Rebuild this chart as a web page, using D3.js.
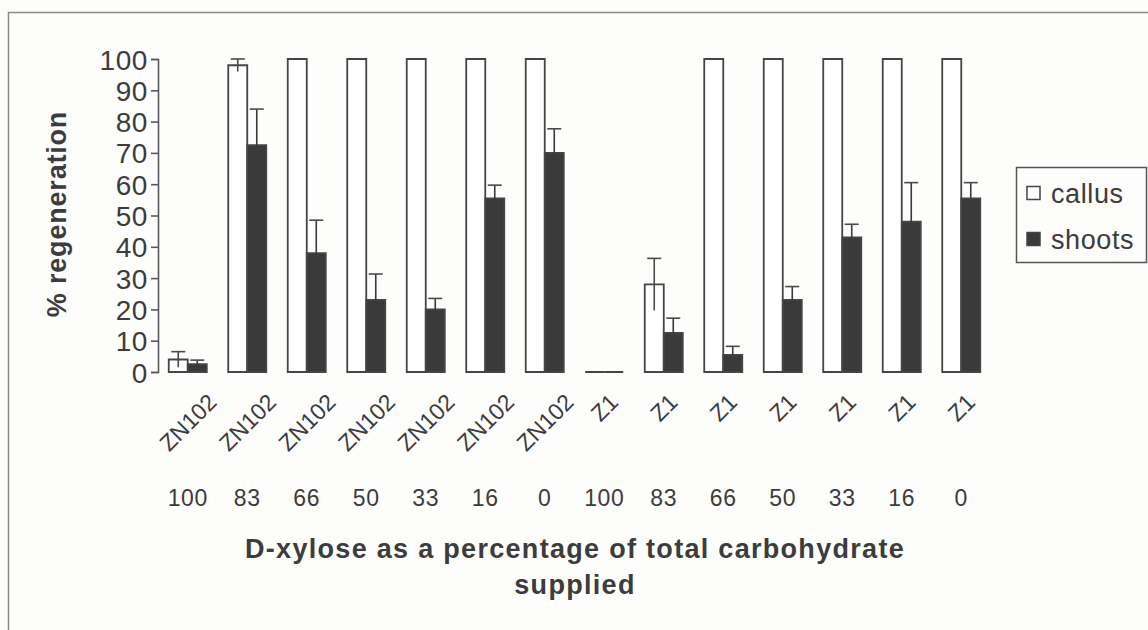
<!DOCTYPE html>
<html>
<head>
<meta charset="utf-8">
<script src="https://cdn.jsdelivr.net/npm/d3@7"></script>
<style>
  html, body { margin: 0; padding: 0; background: #fdfdfc; }
  svg { display: block; }
  text { font-family: "Liberation Sans", Arial, sans-serif; fill: #3c3c3c; }
</style>
</head>
<body>
<svg id="chart" width="1148" height="630"></svg>
<script>
// Cultivar and D-xylose level for each treatment group
const cultivars = ["ZN102","ZN102","ZN102","ZN102","ZN102","ZN102","ZN102",
                   "Z1","Z1","Z1","Z1","Z1","Z1","Z1"];
const xyloseLevels = ["100","83","66","50","33","16","0",
                      "100","83","66","50","33","16","0"];

// % regeneration (mean) and error for each series
const callus      = [4, 98, 100, 100, 100, 100, 100, 0, 28, 100, 100, 100, 100, 100];
const callusErr   = [2.5, 2, 0, 0, 0, 0, 0, 0, 8.3, 0, 0, 0, 0, 0];
const shoots      = [2.5, 72.5, 38, 23, 20, 55.5, 70, 0, 12.5, 5.5, 23, 43, 48, 55.5];
const shootsErr   = [1.3, 11.5, 10.5, 8.3, 3.5, 4.2, 7.7, 0, 4.7, 2.7, 4.3, 4.2, 12.5, 5];

const seriesNames = ["callus", "shoots"];
const yTicks = [0, 10, 20, 30, 40, 50, 60, 70, 80, 90, 100];

const svg = d3.select("#chart");
const ink = "#3c3c3c";
const dark = "#3a3a3a";

// outer frame
svg.append("path")
  .attr("d", "M8.5,630 L8.5,12.5 L1148,12.5")
  .attr("fill", "none").attr("stroke", "#8a8a8a").attr("stroke-width", 1.5);

const plot = { left: 158, right: 991, top: 59, bottom: 372 };
const idx = d3.range(cultivars.length);

const x = d3.scaleBand()
  .domain(idx)
  .range([plot.left, plot.right])
  .paddingInner(0.361)
  .paddingOuter(0.1805);

const x1 = d3.scaleBand().domain(seriesNames).range([0, x.bandwidth()]);

const y = d3.scaleLinear().domain([0, 100]).range([plot.bottom, plot.top]);

// y axis
const yAxis = svg.append("g")
  .attr("transform", `translate(${plot.left},0)`)
  .call(d3.axisLeft(y).tickValues(yTicks).tickSize(7).tickPadding(3));
yAxis.select(".domain").attr("stroke", "#5a5a5a").attr("stroke-width", 1.6);
yAxis.selectAll(".tick line").attr("stroke", "#5a5a5a").attr("stroke-width", 1.6);
yAxis.selectAll(".tick text")
  .attr("font-size", 28).attr("letter-spacing", 0.6)
  .attr("fill", ink).attr("dy", "0.36em")
  .style("font-family", "'Liberation Sans', Arial, sans-serif");

// bars drawn as closed paths so that zero-height bars still show their outline
const series = [
  { name: "callus", values: callus, errs: callusErr, fill: "#ffffff" },
  { name: "shoots", values: shoots, errs: shootsErr, fill: dark }
];

function barPath(x0, y0, w, h) {
  const p = d3.path();
  p.moveTo(x0, y0 + h);
  p.lineTo(x0, y0);
  p.lineTo(x0 + w, y0);
  p.lineTo(x0 + w, y0 + h);
  p.closePath();
  return p.toString();
}

series.forEach(s => {
  const g = svg.append("g");
  g.selectAll("path")
    .data(idx)
    .join("path")
    .attr("d", i => barPath(x(i) + x1(s.name), y(s.values[i]),
                            x1.bandwidth(), y(0) - y(s.values[i])))
    .attr("fill", s.fill)
    .attr("stroke", "#454545")
    .attr("stroke-width", 1.8);

  // error bars (stem through the bar top, cap on the upper end)
  const eb = idx.filter(i => s.errs[i] > 0);
  const cx = i => x(i) + x1(s.name) + x1.bandwidth() / 2;
  g.selectAll("line.stem")
    .data(eb)
    .join("line")
    .attr("class", "stem")
    .attr("x1", cx).attr("x2", cx)
    .attr("y1", i => y(Math.max(0, s.values[i] - s.errs[i])))
    .attr("y2", i => y(s.values[i] + s.errs[i]))
    .attr("stroke", s.name === "callus" ? "#4a4a4a" : dark)
    .attr("stroke-width", 1.6);
  g.selectAll("line.cap")
    .data(eb)
    .join("line")
    .attr("class", "cap")
    .attr("x1", i => cx(i) - 7).attr("x2", i => cx(i) + 7)
    .attr("y1", i => y(s.values[i] + s.errs[i]))
    .attr("y2", i => y(s.values[i] + s.errs[i]))
    .attr("stroke", "#4a4a4a")
    .attr("stroke-width", 1.6);
});

// rotated cultivar labels, centred on each group, top-aligned
const labelTop = 392;
const cultLabels = svg.append("g").selectAll("text")
  .data(idx)
  .join("text")
  .attr("font-size", 23)
  .attr("text-anchor", "middle")
  .text(i => cultivars[i]);
cultLabels.each(function(i) {
  const len = this.getComputedTextLength();
  const h = 16.5;
  const half = (len * Math.SQRT1_2 + h * Math.SQRT1_2) / 2;
  const cxp = x(i) + x.bandwidth() / 2;
  d3.select(this)
    .attr("dy", "0.36em")
    .attr("transform", `translate(${cxp},${labelTop + half}) rotate(-45)`);
});

// D-xylose level row
svg.append("g").selectAll("text")
  .data(idx)
  .join("text")
  .attr("x", i => x(i) + x.bandwidth() / 2)
  .attr("y", 506)
  .attr("font-size", 23)
  .attr("letter-spacing", 0.6)
  .attr("text-anchor", "middle")
  .text(i => xyloseLevels[i]);

// axis titles
const xTitle = svg.append("text")
  .attr("font-size", 27).attr("font-weight", "bold")
  .attr("letter-spacing", 1.3)
  .attr("text-anchor", "middle");
xTitle.append("tspan").attr("x", 575).attr("y", 558)
  .text("D-xylose as a percentage of total carbohydrate");
xTitle.append("tspan").attr("x", 575).attr("y", 594)
  .text("supplied");

svg.append("text")
  .attr("font-size", 27).attr("font-weight", "bold")
  .attr("letter-spacing", 0.8)
  .attr("text-anchor", "middle")
  .attr("transform", `translate(66,214) rotate(-90)`)
  .text("% regeneration");

// legend
const legend = svg.append("g");
legend.append("rect")
  .attr("x", 1016.5).attr("y", 167.5).attr("width", 130).attr("height", 95)
  .attr("fill", "#fdfdfc").attr("stroke", "#555").attr("stroke-width", 1.5);
series.forEach((s, k) => {
  const ly = 193 + k * 46;
  legend.append("rect")
    .attr("x", 1027).attr("y", ly - 6.5).attr("width", 13).attr("height", 13)
    .attr("fill", s.fill).attr("stroke", "#454545").attr("stroke-width", 1.5);
  legend.append("text")
    .attr("x", 1051).attr("y", ly).attr("dy", "0.36em")
    .attr("font-size", 27).attr("letter-spacing", 0.6)
    .text(s.name);
});
</script>
</body>
</html>
